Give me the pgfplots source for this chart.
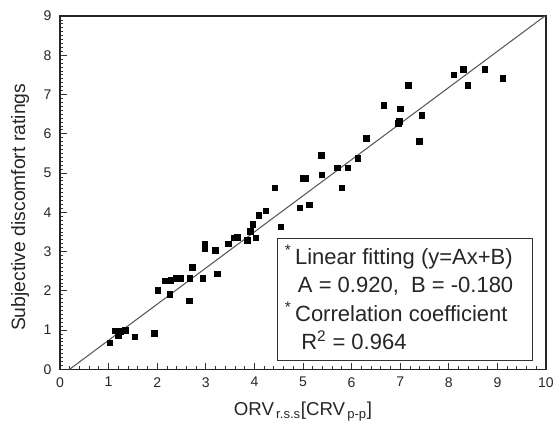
\documentclass[border=0pt]{standalone}
\usepackage{pgfplots}
\pgfplotsset{compat=1.18}
\usepackage{fontspec}
\setmainfont{Liberation Sans}
\usetikzlibrary{calc}

\begin{document}
\begin{tikzpicture}
\begin{axis}[
    name=ax,
    scale only axis,
    width=364.5pt, height=265pt,
    xmin=0, xmax=10, ymin=0, ymax=9,
    xtick={0,1,...,10}, ytick={0,1,...,9},
    minor x tick num=4, minor y tick num=9,
    tick align=inside,
    xtick pos=bottom, ytick pos=left,
    major tick length=5pt, minor tick length=2.5pt,
    axis line style={black!85, line width=0.9pt},
    every tick/.style={black!80, line width=0.6pt},
    tick label style={font=\fontsize{10.5}{12}\selectfont, black!85},
    xticklabel style={yshift=-2.5pt},
    yticklabel style={xshift=-3pt},
    /pgf/number format/assume math mode=true,
    xlabel={ORV\textsubscript{\,r.s.s}[CRV\textsubscript{\,p-p}]},
    ylabel={Subjective discomfort ratings},
    xlabel style={font=\fontsize{14}{16}\selectfont, black!85, yshift=-4pt},
    ylabel style={font=\fontsize{14.5}{16}\selectfont, black!85, yshift=4pt, xshift=-11pt},
    clip=false,
]
% fitted line y = 0.920x - 0.180
\addplot[black!65, line width=0.8pt] coordinates {(0.196,0) (9.978,9)};

\addplot[only marks, mark=square*, mark size=2.1pt, black] coordinates {
    (1.02,0.68) (1.14,0.98) (1.20,0.86) (1.25,0.97) (1.34,1.00) (1.54,0.83) (1.94,0.92)
    (2.01,2.01) (2.17,2.26) (2.28,2.27) (2.26,1.91) (2.38,2.32) (2.48,2.32)
    (2.67,2.32) (2.72,2.60) (2.66,1.75) (2.94,2.32)
    (2.98,3.18) (2.98,3.07) (3.19,3.03) (3.23,2.43)
    (3.46,3.20) (3.58,3.35) (3.65,3.36) (3.85,3.28) (4.03,3.35) (3.92,3.52)
    (3.97,3.69) (4.09,3.92) (4.23,4.04) (4.54,3.63) (4.42,4.62)
    (4.93,4.12) (5.13,4.19) (5.00,4.86) (5.06,4.86) (5.38,5.46) (5.39,4.96)
    (5.71,5.13) (5.92,5.13) (5.80,4.62) (6.13,5.38) (6.30,5.88)
    (6.66,6.73) (7.00,6.64) (6.96,6.27) (6.98,6.32) (7.16,7.24) (7.44,6.47) (7.39,5.81)
    (8.10,7.50) (8.30,7.65) (8.39,7.24) (8.74,7.65) (9.11,7.41)
};

% fit info box
\draw[black!80, line width=0.7pt, fill=white] (axis cs:4.47,0.23) rectangle (axis cs:9.73,3.34);
\node[anchor=north west, align=left, inner sep=0pt, black!85,
      font=\fontsize{16.5}{21.4}\selectfont]
    at (axis cs:4.62,3.17)
    {\textsuperscript{*}\,Linear fitting (y=Ax+B)\\
     \hspace{0.6em}A = 0.920,\ \ B = -0.180\\
     \textsuperscript{*}\,Correlation coefficient\\
     \hspace{0.75em}R\textsuperscript{2} = 0.964};
\end{axis}
\pgfresetboundingbox
\path ($(ax.south west)+(-45pt,-47.25pt)$) rectangle ($(ax.north east)+(9pt,12pt)$);
\end{tikzpicture}
\end{document}
